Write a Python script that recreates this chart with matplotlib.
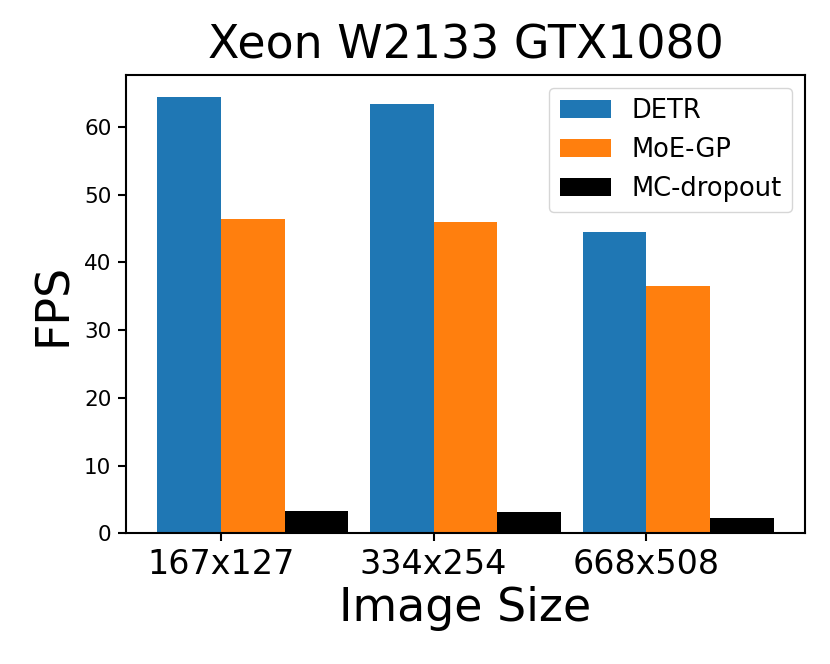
import numpy as np
import matplotlib
matplotlib.use("Agg")
import matplotlib.pyplot as plt

sizes = ["167x127", "334x254", "668x508"]
detr = [64.4, 63.4, 44.5]
moe_gp = [46.4, 45.9, 36.5]
mc_dropout = [3.3, 3.2, 2.2]

x = np.arange(len(sizes))
w = 0.3

fig = plt.figure(figsize=(8.3, 6.64), dpi=100)
ax = fig.add_axes([0.1518, 0.1968, 0.818, 0.690])
ax.bar(x - w / 2, detr, w, color="#1f77b4", label="DETR")
ax.bar(x + w / 2, moe_gp, w, color="#ff7f0e", label="MoE-GP")
ax.bar(x + 3 * w / 2, mc_dropout, w, color="black", label="MC-dropout")

ax.set_xticks(x)
ax.set_xticklabels(sizes, fontsize=24)
ax.set_yticks(range(0, 70, 10))
ax.tick_params(axis="y", labelsize=15.5)
ax.tick_params(length=6, width=1.5, pad=4.5)
for s in ax.spines.values():
    s.set_linewidth(1.5)
ax.set_xlabel("Image Size", fontsize=33)
ax.set_ylabel("FPS", fontsize=33, labelpad=6)
ax.set_title("Xeon W2133 GTX1080", fontsize=33, pad=12)
ax.legend(loc="upper right", fontsize=18.5)

fig.savefig("out.png", dpi=100)
